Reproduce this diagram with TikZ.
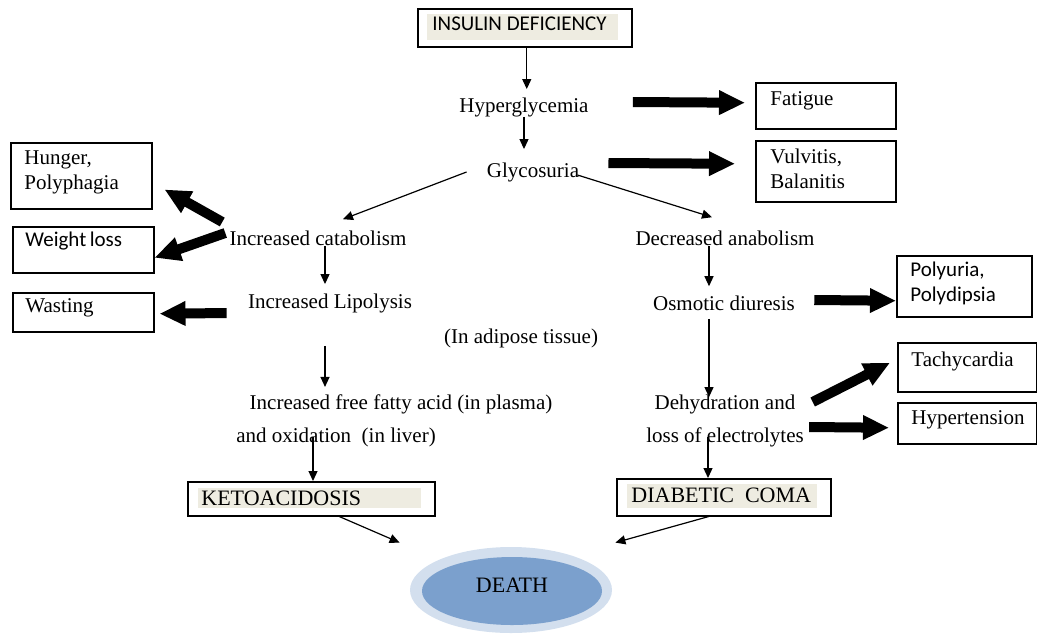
\documentclass[tikz,border=0pt]{standalone}
\usepackage{fontspec}
\setmainfont{Liberation Serif}
\newfontfamily\carlitofont{Carlito}
\usetikzlibrary{arrows.meta,shapes.geometric}
\definecolor{beige}{HTML}{EEECE1}
\definecolor{douter}{HTML}{D3DFEE}
\definecolor{dinner}{HTML}{7BA0CD}
\tikzset{
  box/.style={draw, line width=0.75pt, anchor=north west, inner sep=0pt},
  txt/.style={inner sep=0pt, font=\fontsize{10.5}{12}\selectfont},
  btxt/.style={inner sep=0pt, anchor=west, align=left, font=\fontsize{10.5}{12.5}\selectfont},
  stxt/.style={inner sep=0pt, anchor=west, align=left, font=\carlitofont\fontsize{10.5}{12.5}\selectfont},
  arr/.style={line width=0.6pt, -{Triangle[length=5pt,width=4.5pt]}},
  fat/.style={line width=5pt, -{Triangle[length=13pt,width=11.5pt]}}
}
\begin{document}
\begin{tikzpicture}[x=0.5pt,y=-0.5pt]
\path[use as bounding box] (0,0) rectangle (1037,633);
% boxes
\node[box, minimum width=107pt, minimum height=19pt] (ins) at (417,8) {};
\fill[beige] (427,14) rectangle (618,40);
\node[stxt] (inst) at (432,24) {INSULIN DEFICIENCY};
\node[box, minimum width=70pt, minimum height=23pt] (fat) at (755,82) {};
\node[btxt] (fatt) at (770,101) {Fatigue};
\node[box, minimum width=70pt, minimum height=30.5pt] (vul) at (755,140) {};
\node[btxt] (vult) at (770,169) {Vulvitis,\\Balanitis};
\node[box, minimum width=70.5pt, minimum height=33pt] (hun) at (10,142) {};
\node[btxt] (hunt) at (24,172) {Hunger,\\Polyphagia};
\node[box, minimum width=70.5pt, minimum height=23pt] (wl) at (12,226) {};
\node[stxt] (wlt) at (25,241) {Weight\,loss};
\node[box, minimum width=70.5pt, minimum height=19.5pt] (was) at (12,292) {};
\node[btxt] (wast) at (25,308) {Wasting};
\node[box, minimum width=67.5pt, minimum height=30.5pt] (pol) at (896,255) {};
\node[stxt] (polt) at (910,283) {Polyuria,\\Polydipsia};
\node[box, minimum width=69.5pt, minimum height=24.5pt] (tac) at (897,342) {};
\node[btxt] (tact) at (911,361) {Tachycardia};
\node[box, minimum width=69.5pt, minimum height=20.5pt] (hyp) at (897,402) {};
\node[btxt] (hypt) at (911,420) {Hypertension};
\node[box, minimum width=123.5pt, minimum height=17pt] (keto) at (187,481) {};
\fill[beige] (198,488) rectangle (421,508);
\node[btxt, font=\fontsize{11}{13}\selectfont] (ketot) at (201,498) {KETOACIDOSIS};
\node[box, minimum width=107pt, minimum height=18.5pt] (coma) at (616,478) {};
\fill[beige] (627,484) rectangle (817,508);
\node[btxt, font=\fontsize{11}{13}\selectfont] (comat) at (631,495) {DIABETIC\ \ COMA};
% death
\node[ellipse, fill=douter, minimum width=101pt, minimum height=43pt, inner sep=0pt] (death) at (511,590) {};
\fill[dinner] (512,591) ellipse [x radius=45pt, y radius=17pt];
\node[txt, font=\fontsize{11}{13}\selectfont] (deatht) at (512,585) {DEATH};
% plain texts
\node[txt] (hyper) at (524,107) {Hyperglycemia};
\node[txt] (glyco) at (533,172) {Glycosuria};
\node[txt] (cat) at (318,238) {Increased catabolism};
\node[txt] (dec) at (725,238) {Decreased anabolism};
\node[txt] (lip) at (330,303) {Increased Lipolysis};
\node[txt] (adip) at (521,338) {(In adipose tissue)};
\node[txt] (ffa1) at (401,404) {Increased free fatty acid (in plasma)};
\node[txt] (ffa2) at (336,437) {and oxidation\ \ (in liver)};
\node[txt] (osm) at (724,303) {Osmotic diuresis};
\node[txt] (deh1) at (725,404) {Dehydration and};
\node[txt] (deh2) at (725,437) {loss of electrolytes};
% thin arrows
\draw[arr] ([xshift=1pt]ins.south) -- ([xshift=1pt,yshift=4pt]ins.south |- hyper.north);
\draw[arr] (hyper.south) -- ([yshift=6.5pt]hyper.south |- glyco.north);
\draw[arr] ([xshift=-10pt]glyco.west) -- ([xshift=12.5pt,yshift=5.5pt]cat.north);
\draw[arr] ([xshift=-1pt,yshift=-1.5pt]glyco.east) -- ([xshift=-6.5pt,yshift=6.5pt]dec.north);
\draw[arr] ([xshift=3.5pt]cat.south) -- ([xshift=3.5pt,yshift=4.5pt]cat.south |- lip.north);
\draw[arr] ([xshift=-2.5pt,yshift=-16.5pt]lip.south) -- ([xshift=-2.5pt,yshift=3.5pt]lip.south |- ffa1.north);
\draw[arr] ([xshift=-11.5pt]ffa2.center) -- ([xshift=-11.5pt]ffa2.center |- keto.north);
\draw[arr] ([xshift=14pt]keto.south) -- ([xshift=-5pt,yshift=2pt]death.west |- death.north);
\draw[arr] ([xshift=-8pt]dec.south) -- ([xshift=-8pt,yshift=4.5pt]dec.south |- osm.north);
\draw[arr] ([xshift=-7.5pt,yshift=-4pt]osm.south) -- ([xshift=-7.5pt,yshift=-1.5pt]osm.south |- deh1.north);
\draw[arr] ([xshift=-8.5pt]deh2.center) -- ([xshift=-8.5pt]deh2.center |- coma.north);
\draw[arr] ([xshift=-7.5pt]coma.south) -- ([xshift=1.5pt,yshift=2pt]death.east |- death.north);
% thick arrows
\draw[fat] ([xshift=22pt,yshift=2.5pt]hyper.east) -- ([xshift=-5pt,yshift=1.5pt]fat.west);
\draw[fat] ([xshift=14.5pt,yshift=4.5pt]glyco.east) -- ([xshift=-10pt,yshift=3.75pt]vul.west);
\draw[fat] ([xshift=-3.5pt,yshift=8pt]cat.west) -- ([xshift=6pt,yshift=10pt]hun.south east);
\draw[fat] ([xshift=-2pt,yshift=2.5pt]cat.west) -- ([yshift=-4pt]wl.east);
\draw[fat] ([xshift=-10.5pt,yshift=-5pt]lip.west) -- ([xshift=2.5pt,yshift=-0.75pt]was.east);
\draw[fat] ([xshift=9.5pt,yshift=1.5pt]osm.east) -- ([yshift=-7.25pt]pol.west);
\draw[fat] ([xshift=8.5pt,yshift=1pt]deh1.east) -- ([xshift=-3.5pt,yshift=2.25pt]tac.west);
\draw[fat] ([xshift=2.5pt,yshift=5pt]deh2.east) -- ([xshift=-4pt,yshift=-2.25pt]hyp.west);
\end{tikzpicture}
\end{document}
